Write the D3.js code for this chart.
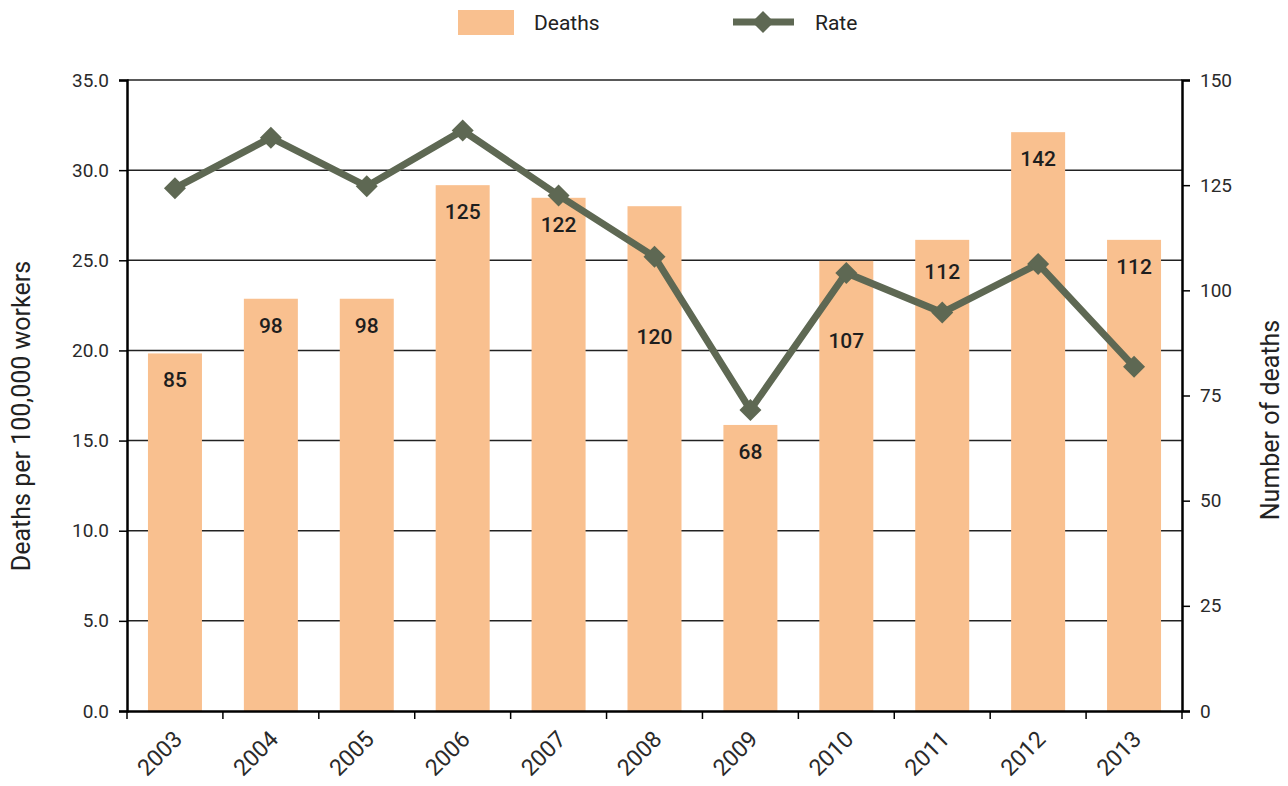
<!DOCTYPE html>
<html>
<head>
<meta charset="utf-8">
<script src="https://cdn.jsdelivr.net/npm/d3@7"></script>
<style>
  body { margin: 0; background: #fff; }
  svg { display: block; font-family: Roboto, "Noto Sans", sans-serif; }
</style>
</head>
<body>
<div id="chart-area"></div>
<script>
// data
let years = ["2003", "2004", "2005", "2006", "2007", "2008", "2009", "2010", "2011", "2012", "2013"];
let deaths = [85, 98, 98, 125, 122, 120, 68, 107, 112, 142, 112];
// bar heights as drawn (the 2012 bar is drawn shorter than its label)
let deathBars = [85, 98, 98, 125, 122, 120, 68, 107, 112, 137.6, 112];
let rate = [29.0, 31.8, 29.1, 32.2, 28.6, 25.2, 16.7, 24.3, 22.1, 24.8, 19.1];
let rateTicks = [0, 5, 10, 15, 20, 25, 30, 35];
let deathTicks = [0, 25, 50, 75, 100, 125, 150];

let width = 1288,
    height = 786;
let margin = {top: 80, right: 106, bottom: 75, left: 127};
let plotW = width - margin.left - margin.right,
    plotH = height - margin.top - margin.bottom;

let barColor = "#f9c08f",
    lineColor = "#5e6853";

// labels pushed down inside the bar so they clear the line
let labelDrop = {"2008": 104, "2010": 53, "2011": 5};

let svg = d3.select("#chart-area")
    .append("svg")
    .attr("width", width)
    .attr("height", height);

let g = svg.append("g")
    .attr("transform", "translate(" + margin.left + "," + margin.top + ")");

let x = d3.scaleBand()
    .domain(years)
    .range([0, plotW])
    .paddingInner(0.437)
    .paddingOuter(0.437 / 2);

let yRate = d3.scaleLinear().domain([0, 35]).range([plotH, 0]);
let yDeaths = d3.scaleLinear().domain([0, 150]).range([plotH, 0]);

// gridlines
g.append("g")
    .selectAll("line")
    .data(rateTicks.slice(1))
    .enter()
    .append("line")
    .attr("x1", 0)
    .attr("x2", plotW)
    .attr("y1", d => yRate(d))
    .attr("y2", d => yRate(d))
    .attr("stroke", "#222")
    .attr("stroke-width", 1.5);

// bars
g.selectAll("rect.bar")
    .data(years)
    .enter()
    .append("rect")
    .attr("class", "bar")
    .attr("x", d => x(d))
    .attr("width", x.bandwidth())
    .attr("y", (d, i) => yDeaths(deathBars[i]))
    .attr("height", (d, i) => plotH - yDeaths(deathBars[i]))
    .attr("fill", barColor);

// bar labels
g.selectAll("text.val")
    .data(years)
    .enter()
    .append("text")
    .attr("class", "val")
    .attr("x", d => x(d) + x.bandwidth() / 2)
    .attr("y", (d, i) => yDeaths(deathBars[i]) + 34 + (labelDrop[d] || 0))
    .attr("text-anchor", "middle")
    .attr("font-size", 21)
    .attr("font-weight", 500)
    .attr("fill", "#1e1e1e")
    .text((d, i) => deaths[i]);

// axes
let yAxisLeft = d3.axisLeft(yRate)
    .tickValues(rateTicks)
    .tickSize(8)
    .tickPadding(10)
    .tickFormat(d3.format(".1f"));

let yAxisRight = d3.axisRight(yDeaths)
    .tickValues(deathTicks)
    .tickSize(8)
    .tickPadding(10);

let xAxis = d3.axisBottom(x).tickSize(0).tickFormat(d => d);

let gl = g.append("g").call(yAxisLeft);
let gr = g.append("g").attr("transform", "translate(" + plotW + ",0)").call(yAxisRight);
let gx = g.append("g").attr("transform", "translate(0," + plotH + ")").call(xAxis);

[gl, gr, gx].forEach(a => {
    a.select(".domain").attr("stroke", "#000").attr("stroke-width", 2.5);
    a.selectAll(".tick line").attr("stroke", "#000").attr("stroke-width", 1.5);
    a.selectAll(".tick text").attr("font-size", 19).attr("fill", "#2a2a2a").attr("font-family", "Roboto, sans-serif");
});

gx.selectAll(".tick text")
    .attr("font-size", 23)
    .attr("text-anchor", "end")
    .attr("transform", "translate(3,24) rotate(-45)")
    .attr("dy", "0.35em")
    .attr("y", 0);

// band boundary ticks on the x axis
let step = x.step();
gx.append("g")
    .selectAll("line")
    .data(d3.range(years.length + 1))
    .enter()
    .append("line")
    .attr("x1", i => i * step)
    .attr("x2", i => i * step)
    .attr("y1", 0)
    .attr("y2", 8)
    .attr("stroke", "#000")
    .attr("stroke-width", 1.5);

// rate line
let line = d3.line()
    .x((d, i) => x(years[i]) + x.bandwidth() / 2)
    .y(d => yRate(d));

g.append("path")
    .datum(rate)
    .attr("d", line)
    .attr("fill", "none")
    .attr("stroke", lineColor)
    .attr("stroke-width", 7)
    .attr("stroke-linejoin", "miter");

let diamond = r => "M0," + (-r) + "L" + r + ",0L0," + r + "L" + (-r) + ",0Z";

g.selectAll("path.marker")
    .data(rate)
    .enter()
    .append("path")
    .attr("class", "marker")
    .attr("d", diamond(11))
    .attr("transform", (d, i) => "translate(" + (x(years[i]) + x.bandwidth() / 2) + "," + yRate(d) + ")")
    .attr("fill", lineColor);

// axis titles
svg.append("text")
    .attr("transform", "translate(30," + 416 + ") rotate(-90)")
    .attr("text-anchor", "middle")
    .attr("font-size", 25)
    .attr("fill", "#222")
    .text("Deaths per 100,000 workers");

svg.append("text")
    .attr("transform", "translate(1279," + 420 + ") rotate(-90)")
    .attr("text-anchor", "middle")
    .attr("font-size", 25)
    .attr("fill", "#222")
    .text("Number of deaths");

// legend
let legend = svg.append("g");
legend.append("rect")
    .attr("x", 458).attr("y", 10)
    .attr("width", 56).attr("height", 25)
    .attr("fill", barColor);
legend.append("text")
    .attr("x", 534).attr("y", 30)
    .attr("font-size", 21)
    .attr("fill", "#222")
    .text("Deaths");
legend.append("line")
    .attr("x1", 733).attr("x2", 794)
    .attr("y1", 22).attr("y2", 22)
    .attr("stroke", lineColor)
    .attr("stroke-width", 7);
legend.append("path")
    .attr("d", diamond(11))
    .attr("transform", "translate(763,22)")
    .attr("fill", lineColor);
legend.append("text")
    .attr("x", 815).attr("y", 30)
    .attr("font-size", 21)
    .attr("fill", "#222")
    .text("Rate");
</script>
</body>
</html>
